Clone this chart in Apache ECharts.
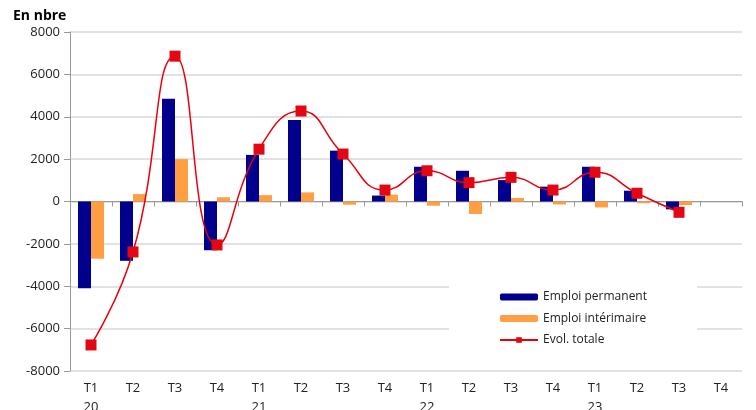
<!DOCTYPE html>
<html>
<head>
<meta charset="utf-8">
<script src="https://cdn.jsdelivr.net/npm/echarts@6/dist/echarts.min.js"></script>
<style>
  html, body { margin: 0; padding: 0; background: #fff; }
  #chart { width: 756px; height: 410px; }
</style>
</head>
<body>
<div id="chart"></div>
<script>
const quarters = ["T1", "T2", "T3", "T4", "T1", "T2", "T3", "T4", "T1", "T2", "T3", "T4", "T1", "T2", "T3", "T4"];
const years = ["20", "", "", "", "21", "", "", "", "22", "", "", "", "23", "", "", ""];

const permanent = [-4100, -2800, 4850, -2300, 2200, 3850, 2400, 280, 1640, 1450, 1010, 700, 1640, 510, -370, null];
const interim = [-2700, 350, 2000, 200, 300, 430, -150, 320, -200, -590, 170, -140, -280, -80, -170, null];
const total = [-6770, -2380, 6860, -2050, 2470, 4270, 2240, 540, 1450, 890, 1140, 540, 1380, 390, -510, null];

const yTicks = { min: -8000, max: 8000, interval: 2000 };

const fontFamily = "'Open Sans', sans-serif";
const categories = quarters.map((q, i) => (years[i] ? `${q}\n${years[i]}` : q));

const chart = echarts.init(document.getElementById("chart"));

chart.setOption({
  animation: false,
  textStyle: { fontFamily },
  title: {
    text: "En nbre",
    left: 8,
    top: 4,
    textStyle: { fontSize: 14, fontWeight: "bold", color: "#000", fontFamily },
  },
  grid: { left: 70, right: 14, top: 32, bottom: 39, containLabel: false, outerBoundsMode: "none" },
  legend: {
    orient: "vertical",
    left: 449,
    top: 273,
    padding: [18, 50, 15, 50],
    backgroundColor: "#fff",
    itemWidth: 38,
    itemHeight: 7,
    itemGap: 9.5,
    textStyle: { fontSize: 12, color: "#222", fontFamily },
    data: ["Emploi permanent", "Emploi intérimaire", "Evol. totale"],
  },
  xAxis: [
    {
      type: "category",
      data: categories,
      position: "bottom",
      axisLine: { onZero: true, lineStyle: { color: "#999", width: 1 } },
      axisTick: { show: true, length: 5, lineStyle: { color: "#999" } },
      axisLabel: { show: false },
    },
    {
      type: "category",
      data: categories,
      position: "bottom",
      axisLine: { show: false, onZero: false },
      axisTick: { show: false },
      axisLabel: {
        color: "#222",
        fontSize: 13,
        lineHeight: 19,
        margin: 8,
        interval: 0,
        fontFamily,
      },
    },
  ],
  yAxis: {
    type: "value",
    min: yTicks.min,
    max: yTicks.max,
    interval: yTicks.interval,
    axisLine: { show: true, lineStyle: { color: "#999" } },
    axisTick: { show: true, length: 6, lineStyle: { color: "#999" } },
    axisLabel: { color: "#222", fontSize: 13, margin: 10, fontFamily, formatter: (v) => String(v) },
    splitLine: { lineStyle: { color: "#d9d9d9", width: 1.5 } },
  },
  series: [
    {
      name: "Emploi permanent",
      type: "bar",
      xAxisIndex: 0,
      data: permanent,
      barWidth: 13,
      barGap: "0%",
      itemStyle: { color: "#00008c" },
    },
    {
      name: "Emploi intérimaire",
      type: "bar",
      xAxisIndex: 0,
      data: interim,
      barWidth: 13,
      barGap: "0%",
      itemStyle: { color: "#ff9e43" },
    },
    {
      name: "Evol. totale",
      type: "line",
      xAxisIndex: 0,
      data: total,
      smooth: 0.5,
      symbol: "rect",
      symbolSize: 11,
      lineStyle: { color: "#e8000b", width: 1.5 },
      itemStyle: { color: "#e30613" },
      z: 5,
    },
  ],
});
</script>
</body>
</html>
